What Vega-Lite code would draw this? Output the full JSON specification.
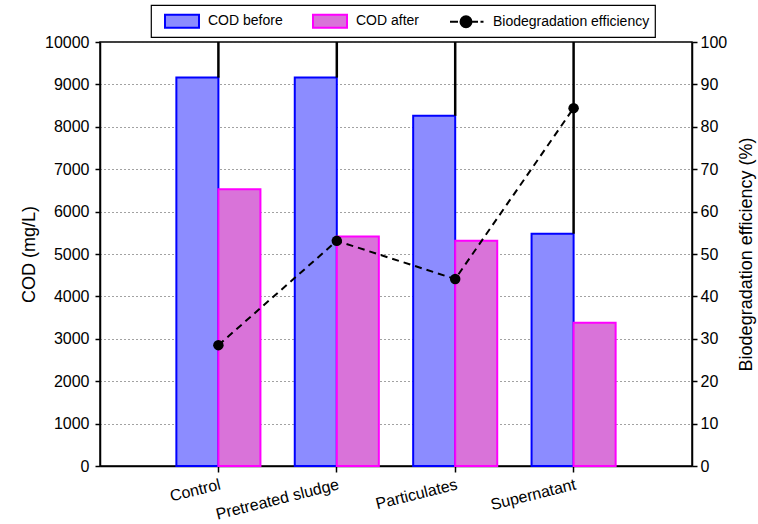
{
  "$schema": "https://vega.github.io/schema/vega-lite/v6.json",
  "width": 592,
  "height": 424,
  "autosize": {"type": "none"},
  "padding": {"left": 100, "top": 42, "right": 66, "bottom": 58},
  "background": "white",
  "datasets": {
    "cod": [
      {"category": "Control", "series": "COD before", "cod": 9160},
      {"category": "Control", "series": "COD after", "cod": 6530},
      {"category": "Pretreated sludge", "series": "COD before", "cod": 9160},
      {"category": "Pretreated sludge", "series": "COD after", "cod": 5410},
      {"category": "Particulates", "series": "COD before", "cod": 8260},
      {"category": "Particulates", "series": "COD after", "cod": 5310},
      {"category": "Supernatant", "series": "COD before", "cod": 5480},
      {"category": "Supernatant", "series": "COD after", "cod": 3380}
    ],
    "err": [
      {"category": "Control", "low": 9160, "high": 10000},
      {"category": "Pretreated sludge", "low": 9160, "high": 10000},
      {"category": "Particulates", "low": 8260, "high": 10000},
      {"category": "Supernatant", "low": 5480, "high": 10000}
    ],
    "eff": [
      {"category": "Control", "series": "Biodegradation efficiency", "efficiency": 28.5},
      {"category": "Pretreated sludge", "series": "Biodegradation efficiency", "efficiency": 53.1},
      {"category": "Particulates", "series": "Biodegradation efficiency", "efficiency": 44.1},
      {"category": "Supernatant", "series": "Biodegradation efficiency", "efficiency": 84.4}
    ]
  },
  "layer": [
    {
      "layer": [
        {
          "data": {"name": "cod"},
          "mark": {"type": "bar", "strokeWidth": 2, "opacity": 1},
          "encoding": {
            "x": {
              "field": "category", "type": "nominal", "sort": null,
              "scale": {"domain": ["Control", "Pretreated sludge", "Particulates", "Supernatant"], "paddingInner": 0.29, "paddingOuter": 0.645},
              "axis": {"title": null, "labelAngle": -14, "labelAlign": "right", "labelBaseline": "top", "tickSize": 6, "labelPadding": 4, "grid": false}
            },
            "xOffset": {"field": "series", "type": "nominal", "sort": null, "scale": {"domain": ["COD before", "COD after"], "paddingInner": 0, "paddingOuter": 0}},
            "y": {
              "field": "cod", "type": "quantitative",
              "scale": {"domain": [0, 10000], "nice": false},
              "axis": {"title": "COD (mg/L)", "values": [0, 1000, 2000, 3000, 4000, 5000, 6000, 7000, 8000, 9000, 10000], "format": "d", "grid": true, "gridDash": [1, 3], "gridColor": "#444", "gridWidth": 1, "tickSize": 5, "labelPadding": 6, "titlePadding": 6}
            },
            "fill": {"field": "series", "type": "nominal", "scale": {"domain": ["COD before", "COD after", "Biodegradation efficiency"], "range": ["#8c8cff", "#d973d9", "black"]}, "legend": {"title": null}},
            "stroke": {"field": "series", "type": "nominal", "scale": {"domain": ["COD before", "COD after", "Biodegradation efficiency"], "range": ["blue", "magenta", "black"]}, "legend": {"title": null}}
          }
        },
        {
          "data": {"name": "err"},
          "mark": {"type": "rule", "color": "black", "strokeWidth": 2.5},
          "encoding": {
            "x": {"field": "category", "type": "nominal", "sort": null},
            "y": {"field": "low", "type": "quantitative"},
            "y2": {"field": "high"}
          }
        }
      ]
    },
    {
      "layer": [
        {
          "data": {"name": "eff"},
          "mark": {"type": "line", "color": "black", "strokeWidth": 2, "strokeDash": [7, 5]},
          "encoding": {
            "x": {"field": "category", "type": "nominal", "sort": null},
            "y": {
              "field": "efficiency", "type": "quantitative",
              "scale": {"domain": [0, 100], "nice": false},
              "axis": {"orient": "right", "title": "Biodegradation efficiency (%)", "values": [0, 10, 20, 30, 40, 50, 60, 70, 80, 90, 100], "grid": false, "tickSize": 5, "labelPadding": 3, "titlePadding": 11, "titleAngle": 270, "titleBaseline": "top"}
            }
          }
        },
        {
          "data": {"name": "eff"},
          "mark": {"type": "point", "filled": true, "color": "black", "size": 110, "opacity": 1},
          "encoding": {
            "x": {"field": "category", "type": "nominal", "sort": null},
            "y": {"field": "efficiency", "type": "quantitative"}
          }
        },
        {
          "data": {"name": "eff"},
          "transform": [{"filter": "false"}],
          "mark": {"type": "point", "filled": true, "opacity": 1},
          "encoding": {
            "x": {"field": "category", "type": "nominal", "sort": null},
            "y": {"field": "efficiency", "type": "quantitative"},
            "fill": {"field": "series", "type": "nominal", "legend": {"title": null}},
            "stroke": {"field": "series", "type": "nominal", "legend": {"title": null}},
            "shape": {"field": "series", "type": "nominal", "scale": {"domain": ["COD before", "COD after", "Biodegradation efficiency"], "range": ["M-0.2,-0.65H3.2V0.65H-0.2Z", "M-0.2,-0.65H3.2V0.65H-0.2Z", "M-0.2,0H0.6M2,0H2.6M2.85,0H3.15M1.95,0A0.55,0.55,0,1,1,0.85,0A0.55,0.55,0,1,1,1.95,0Z"]}, "legend": {"title": null}}
          }
        }
      ]
    }
  ],
  "resolve": {"scale": {"y": "independent"}},
  "config": {
    "font": "Liberation Sans",
    "view": {"stroke": "black", "strokeWidth": 1.5},
    "axis": {"labelFont": "Liberation Sans", "labelFontSize": 16, "labelColor": "black", "titleFont": "Liberation Sans", "titleFontSize": 18, "titleFontWeight": "normal", "titleColor": "black", "domainColor": "black", "domainWidth": 1.5, "tickColor": "black", "tickWidth": 1.5},
    "legend": {
      "orient": "none", "legendX": 51, "legendY": -37, "direction": "horizontal",
      "strokeColor": "black", "strokeWidth": 1.2, "fillColor": "white", "padding": 5,
      "labelFont": "Liberation Sans", "labelFontSize": 14, "labelColor": "black",
      "symbolSize": 400, "symbolStrokeWidth": 2, "symbolOpacity": 1, "labelOffset": 30, "columnPadding": 21
    }
  }
}
